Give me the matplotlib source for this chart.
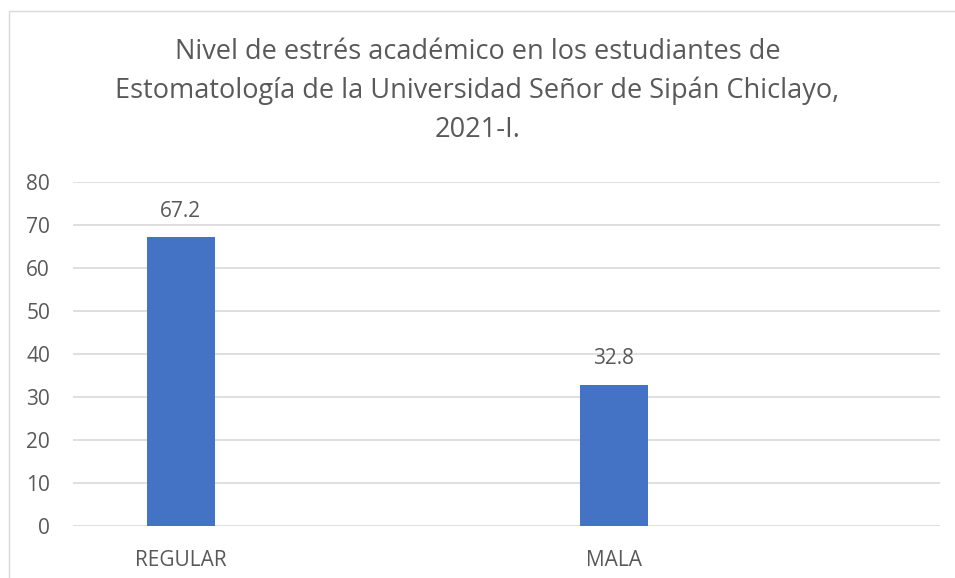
import matplotlib

matplotlib.use("Agg")
import matplotlib.pyplot as plt  # noqa: E402
from matplotlib.patches import Rectangle  # noqa: E402

categories = ["REGULAR", "MALA"]
values = [67.2, 32.8]
y_ticks = [0, 10, 20, 30, 40, 50, 60, 70, 80]
title = ("Nivel de estrés académico en los estudiantes de\n"
         "Estomatología de la Universidad Señor de Sipán Chiclayo,\n"
         "2021-I.")

TEXT = "#595959"
GRID = "#D9D9D9"
BAR = "#4472C4"

plt.rcParams["font.family"] = ["Open Sans", "DejaVu Sans"]

W, H = 955, 578
fig = plt.figure(figsize=(W / 100, H / 100), dpi=100)

# chart frame, open at right/bottom as in the cropped screenshot
fig.patches.append(Rectangle((9 / W, -0.1), 2.0, (H - 11) / H + 0.1,
                             transform=fig.transFigure, fill=False,
                             edgecolor=GRID, linewidth=1.0))

left, right, top, bottom = 73, 940, 182, 526
ax = fig.add_axes([left / W, 1 - bottom / H, (right - left) / W, (bottom - top) / H])

x = list(range(len(categories)))
ax.bar(x, values, width=0.156, color=BAR, zorder=3)
for xi, v in zip(x, values):
    ax.text(xi, v + 3.6, f"{v}", ha="center", va="bottom", fontsize=15, color=TEXT)

ax.set_xlim(-0.249, 1.753)
ax.set_ylim(0, 80)
ax.set_yticks(y_ticks)
ax.set_xticks(x)
ax.set_xticklabels(categories)
ax.tick_params(axis="both", length=0, labelsize=15, labelcolor=TEXT)
ax.tick_params(axis="x", pad=17)
ax.tick_params(axis="y", pad=16.5)
ax.grid(axis="y", color=GRID, linewidth=1.2, zorder=0)
for s in ax.spines.values():
    s.set_visible(False)

fig.text(0.5, 1 - 91 / H, title, ha="center", va="center", fontsize=19.5,
         color=TEXT, linespacing=1.52)

fig.savefig("out.png", dpi=100)
